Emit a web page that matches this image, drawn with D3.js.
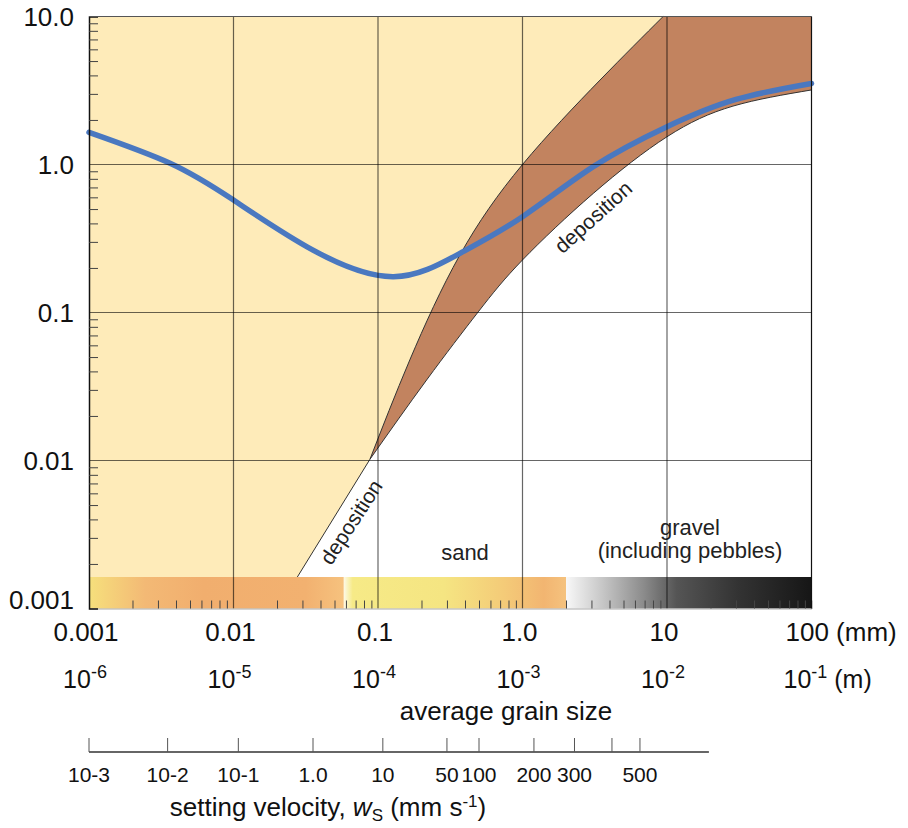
<!DOCTYPE html>
<html>
<head>
<meta charset="utf-8">
<script src="https://cdn.jsdelivr.net/npm/d3@7"></script>
<style>
  body { margin: 0; background: #fff; }
  svg { display: block; font-family: "Liberation Sans", Arial, sans-serif; }
</style>
</head>
<body>
<div id="chart"></div>
<script>
// grain size (mm) against velocity (m/s), both log
const grainTicks = [0.001, 0.01, 0.1, 1, 10, 100];
const grainLabelsMm = ["0.001", "0.01", "0.1", "1.0", "10", "100"];
const grainExpM = ["-6", "-5", "-4", "-3", "-2", "-1"];
const velTicks = [10, 1, 0.1, 0.01, 0.001];
const velLabels = ["10.0", "1.0", "0.1", "0.01", "0.001"];

// boundary of the erosion field: straight part then curve
const erosionLine = [[0.0203, 0.001], [0.088, 0.0102]];
const erosionCurve = [[0.088, 0.0102], [0.166, 0.0478], [0.369, 0.245], [1.0, 1.0],
  [3.44, 3.72], [9.4, 10]];
// lower edge of the transport band
const depositCurve = [[0.088, 0.0102], [0.217, 0.035], [0.494, 0.101], [1.0, 0.2265],
  [3.09, 0.638], [10, 1.54], [28.6, 2.48], [100, 3.19]];
// blue curve
const blueCurve = [[0.001, 1.65], [0.00364, 1.02], [0.01, 0.575], [0.0355, 0.264],
  [0.128, 0.1746], [0.369, 0.251], [1.0, 0.444], [3.09, 0.967], [10, 1.8], [30, 2.75], [100, 3.53]];

// grain classes along the bottom bar
const classBounds = [0.001, 0.058, 2, 100];
const classStops = [
  [[0, "#f6e07c"], [0.22, "#f3b975"], [0.45, "#f1ae6e"], [0.85, "#f2b170"], [1, "#f6c27e"]],
  [[0, "#fdf9e6"], [0.04, "#f6ea87"], [0.45, "#f5e582"], [0.72, "#f4cb78"], [0.9, "#f2b571"], [1, "#f5c27e"]],
  [[0, "#f8f8f8"], [0.15, "#c6c6c6"], [0.32, "#8a8a8a"], [0.45, "#555"], [0.7, "#333"], [1, "#161616"]]
];

// settling velocity axis (mm/s) and the grain size each sits under
const settleValues = ["10-3", "10-2", "10-1", "1.0", "10", "50", "100", "200", "300", "", "500"];
const settleGrainMm = [0.001, 0.0035, 0.0108, 0.0355, 0.108, 0.30, 0.50, 1.20, 2.29, 4.16, 6.5];
const settleAxisEnd = 19.5;

const W = 908, H = 828;
const x = d3.scaleLog().domain([0.001, 100]).range([89, 811.5]);
const y = d3.scaleLog().domain([0.001, 10]).range([608.5, 16.5]);

const svg = d3.select("#chart").append("svg").attr("width", W).attr("height", H);
const defs = svg.append("defs");

const smooth = d3.curveNatural;
const line = d3.line().x(d => x(d[0])).y(d => y(d[1])).curve(smooth);

// brown transport band: everything above the lower curve
svg.append("path")
  .attr("d", d3.area().x(d => x(d[0])).y0(d => y(d[1])).y1(y(10)).curve(smooth)(depositCurve))
  .attr("fill", "#c2835f");

// pale yellow erosion field
const upperEnd = erosionCurve[erosionCurve.length - 1];
const yellowD = "M" + x(0.001) + "," + y(10) +
  "L" + x(0.001) + "," + y(0.001) +
  "L" + x(erosionLine[0][0]) + "," + y(erosionLine[0][1]) +
  line(erosionCurve).replace(/^M/, "L") +
  "L" + x(upperEnd[0]) + "," + y(10) + "Z";
svg.append("path").attr("d", yellowD).attr("fill", "#feebb9");

// outlines of the fields
svg.append("path").attr("d", d3.line().x(d => x(d[0])).y(d => y(d[1]))(erosionLine))
  .attr("fill", "none").attr("stroke", "#333").attr("stroke-width", 1);
svg.append("path").attr("d", line(erosionCurve))
  .attr("fill", "none").attr("stroke", "#333").attr("stroke-width", 1);
svg.append("path").attr("d", line(depositCurve))
  .attr("fill", "none").attr("stroke", "#333").attr("stroke-width", 1);

// grain size bar
const barTop = 577;
classStops.forEach((stops, i) => {
  const g = defs.append("linearGradient").attr("id", "cls" + i)
    .attr("x1", "0%").attr("x2", "100%").attr("y1", "0%").attr("y2", "0%");
  stops.forEach(s => g.append("stop").attr("offset", s[0]).attr("stop-color", s[1]));
  svg.append("rect")
    .attr("x", x(classBounds[i]))
    .attr("y", barTop)
    .attr("width", x(classBounds[i + 1]) - x(classBounds[i]))
    .attr("height", y(0.001) - barTop)
    .attr("fill", "url(#cls" + i + ")");
});

// blue curve
svg.append("path")
  .attr("d", line(blueCurve))
  .attr("fill", "none").attr("stroke", "#4a78c0").attr("stroke-width", 5.5)
  .attr("stroke-linecap", "round");

// labels in the plot
svg.append("text").text("deposition")
  .attr("transform", "translate(351,522) rotate(-57)")
  .attr("text-anchor", "middle").attr("dominant-baseline", "central")
  .attr("font-size", 21).attr("fill", "#222");
svg.append("text").text("deposition")
  .attr("transform", "translate(593,217) rotate(-42)")
  .attr("text-anchor", "middle").attr("dominant-baseline", "central")
  .attr("font-size", 21).attr("fill", "#222");
svg.append("text").text("sand").attr("x", 465).attr("y", 560)
  .attr("text-anchor", "middle").attr("font-size", 22).attr("fill", "#222");
svg.append("text").text("gravel").attr("x", 690).attr("y", 535)
  .attr("text-anchor", "middle").attr("font-size", 22).attr("fill", "#222");
svg.append("text").text("(including pebbles)").attr("x", 690).attr("y", 558)
  .attr("text-anchor", "middle").attr("font-size", 22).attr("fill", "#222");

// grid
const minor = [];
for (let e = -3; e < 2; e++) for (let k = 2; k <= 9; k++) minor.push(k * Math.pow(10, e));
const minorY = minor.filter(v => v < 10);

svg.append("g").selectAll("line").data(grainTicks.slice(1, -1)).join("line")
  .attr("x1", d => x(d)).attr("x2", d => x(d))
  .attr("y1", y(10)).attr("y2", y(0.001))
  .attr("stroke", "#000").attr("stroke-opacity", 0.6).attr("stroke-width", 1.2);
svg.append("g").selectAll("line").data([1, 0.1, 0.01]).join("line")
  .attr("x1", x(0.001)).attr("x2", x(100))
  .attr("y1", d => y(d)).attr("y2", d => y(d))
  .attr("stroke", "#000").attr("stroke-opacity", 0.6).attr("stroke-width", 1.2);

// minor ticks, pointing inward
svg.append("g").attr("transform", "translate(0," + y(0.001) + ")")
  .call(d3.axisBottom(x).tickValues(minor).tickSize(-8).tickFormat(""))
  .call(g => g.select(".domain").attr("stroke", "#aaa"))
  .call(g => g.selectAll(".tick line").attr("stroke", "#444"));
svg.append("g").attr("transform", "translate(" + x(0.001) + ",0)")
  .call(d3.axisLeft(y).tickValues(minorY).tickSize(-9).tickFormat(""))
  .call(g => g.select(".domain").attr("stroke", "#111").attr("stroke-width", 1.5))
  .call(g => g.selectAll(".tick line").attr("stroke", "#444"));

// top and right frame
svg.append("line").attr("x1", x(0.001)).attr("x2", x(100)).attr("y1", y(10)).attr("y2", y(10))
  .attr("stroke", "#555").attr("stroke-width", 1.2);
svg.append("line").attr("x1", x(100)).attr("x2", x(100)).attr("y1", y(10)).attr("y2", y(0.001))
  .attr("stroke", "#111").attr("stroke-width", 1.2);

// y labels
svg.append("g").selectAll("text").data(velTicks).join("text")
  .attr("x", 74)
  .attr("y", (d, i) => d === 0.001 ? y(d) - 9 : y(d))
  .attr("text-anchor", "end").attr("dominant-baseline", "central")
  .attr("font-size", 26).attr("fill", "#111")
  .text((d, i) => velLabels[i]);

// x labels in mm
svg.append("g").selectAll("text").data(grainTicks).join("text")
  .attr("x", (d, i) => i === grainTicks.length - 1 ? x(d) - 26 : x(d) - 3)
  .attr("y", 641)
  .attr("text-anchor", (d, i) => i === grainTicks.length - 1 ? "start" : "middle")
  .attr("font-size", 26).attr("fill", "#111")
  .text((d, i) => grainLabelsMm[i] + (i === grainTicks.length - 1 ? " (mm)" : ""));

// x labels in m
const mLab = svg.append("g").selectAll("text").data(grainTicks).join("text")
  .attr("x", (d, i) => i === grainTicks.length - 1 ? x(d) - 28 : x(d) - 4)
  .attr("y", 688)
  .attr("text-anchor", (d, i) => i === grainTicks.length - 1 ? "start" : "middle")
  .attr("font-size", 25).attr("fill", "#111");
mLab.append("tspan").text("10");
mLab.append("tspan").attr("dy", -10).attr("font-size", 18).text((d, i) => grainExpM[i]);
mLab.filter((d, i) => i === grainTicks.length - 1).append("tspan").attr("dy", 10).text(" (m)");

svg.append("text").text("average grain size").attr("x", 506).attr("y", 720)
  .attr("text-anchor", "middle").attr("font-size", 26).attr("fill", "#111");

// settling velocity axis
const sy = 752;
svg.append("line").attr("x1", x(settleGrainMm[0])).attr("x2", x(settleAxisEnd))
  .attr("y1", sy).attr("y2", sy).attr("stroke", "#333").attr("stroke-width", 1.5);
svg.append("g").selectAll("line").data(settleGrainMm).join("line")
  .attr("x1", d => x(d)).attr("x2", d => x(d))
  .attr("y1", sy - 14).attr("y2", sy)
  .attr("stroke", "#555").attr("stroke-width", 1);
svg.append("g").selectAll("text").data(settleGrainMm).join("text")
  .attr("x", d => x(d)).attr("y", 782)
  .attr("text-anchor", "middle").attr("font-size", 21).attr("fill", "#111")
  .text((d, i) => settleValues[i]);

const st = svg.append("text").attr("x", 328).attr("y", 816)
  .attr("text-anchor", "middle").attr("font-size", 26).attr("fill", "#111");
st.append("tspan").text("setting velocity, ");
st.append("tspan").attr("font-style", "italic").text("w");
st.append("tspan").attr("dy", 5).attr("font-size", 17).text("S");
st.append("tspan").attr("dy", -5).text(" (mm s");
st.append("tspan").attr("dy", -9).attr("font-size", 17).text("-1");
st.append("tspan").attr("dy", 9).text(")");
</script>
</body>
</html>
